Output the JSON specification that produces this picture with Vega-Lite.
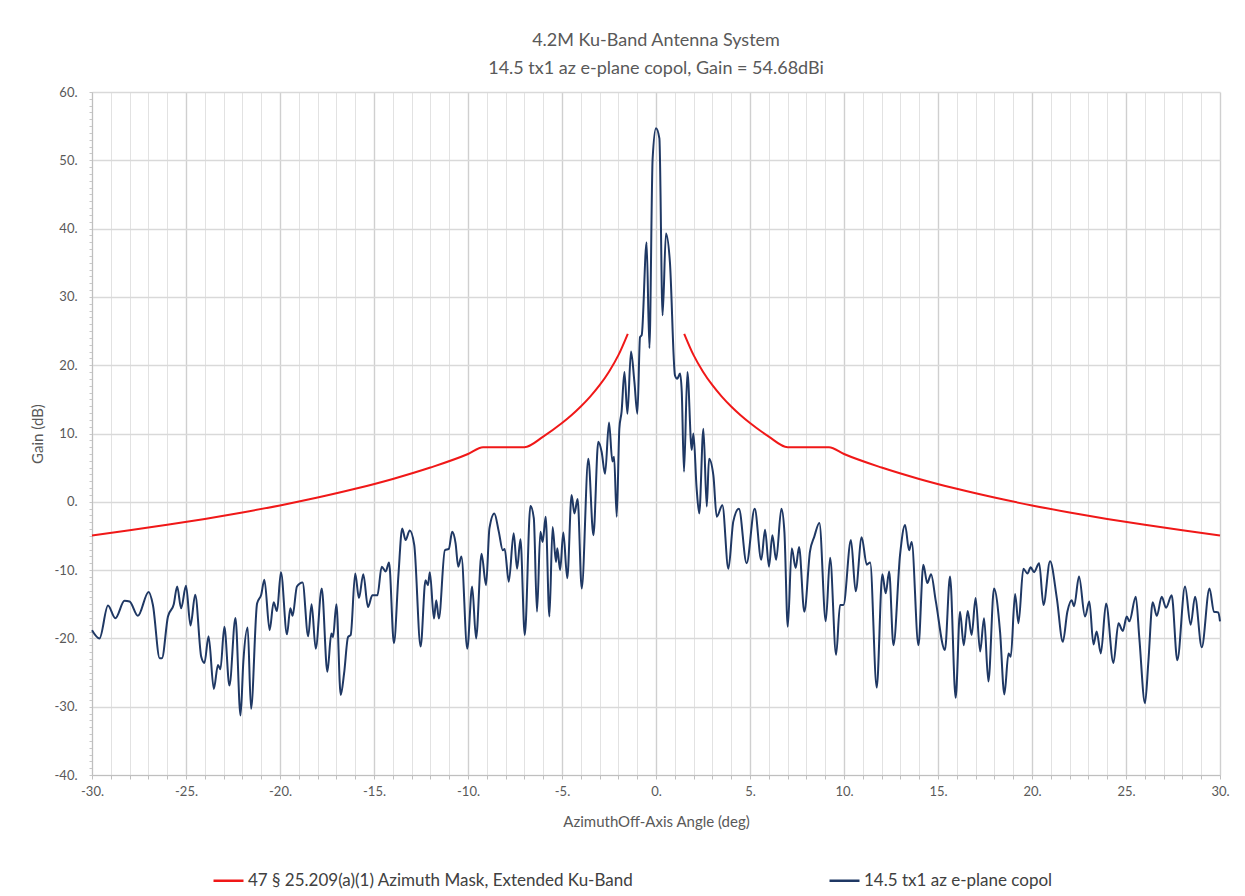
{
  "$schema": "https://vega.github.io/schema/vega-lite/v6.json",
  "width": 1128,
  "height": 683,
  "autosize": "none",
  "padding": {"left": 92, "top": 92, "right": 25, "bottom": 121},
  "background": "white",
  "config": {"view": {"stroke": null}, "font": "Lato"},
  "title": {
    "text": ["4.2M Ku-Band Antenna System", "14.5 tx1 az e-plane copol, Gain = 54.68dBi"],
    "anchor": "middle", "fontSize": 18, "fontWeight": "normal", "color": "#595959",
    "lineHeight": 28, "offset": 8, "font": "Lato"
  },
  "datasets": {
    "mask": [
      {"angle": -30, "gain": -4.93, "side": "L"}, {"angle": -28, "gain": -4.18, "side": "L"}, {"angle": -26, "gain": -3.37, "side": "L"},
      {"angle": -24, "gain": -2.51, "side": "L"}, {"angle": -22, "gain": -1.56, "side": "L"}, {"angle": -20, "gain": -0.53, "side": "L"},
      {"angle": -18, "gain": 0.62, "side": "L"}, {"angle": -16, "gain": 1.9, "side": "L"}, {"angle": -14, "gain": 3.35, "side": "L"},
      {"angle": -12, "gain": 5.02, "side": "L"}, {"angle": -10, "gain": 7.0, "side": "L"}, {"angle": -9.2, "gain": 8.0, "side": "L"},
      {"angle": -7, "gain": 8.0, "side": "L"}, {"angle": -6, "gain": 9.55, "side": "L"}, {"angle": -5, "gain": 11.53, "side": "L"},
      {"angle": -4.5, "gain": 12.67, "side": "L"}, {"angle": -4, "gain": 13.95, "side": "L"}, {"angle": -3.5, "gain": 15.4, "side": "L"},
      {"angle": -3, "gain": 17.07, "side": "L"}, {"angle": -2.5, "gain": 19.05, "side": "L"}, {"angle": -2, "gain": 21.47, "side": "L"},
      {"angle": -1.5, "gain": 24.6, "side": "L"},
      {"angle": 1.5, "gain": 24.6, "side": "R"}, {"angle": 2, "gain": 21.47, "side": "R"}, {"angle": 2.5, "gain": 19.05, "side": "R"},
      {"angle": 3, "gain": 17.07, "side": "R"}, {"angle": 3.5, "gain": 15.4, "side": "R"}, {"angle": 4, "gain": 13.95, "side": "R"},
      {"angle": 4.5, "gain": 12.67, "side": "R"}, {"angle": 5, "gain": 11.53, "side": "R"}, {"angle": 6, "gain": 9.55, "side": "R"},
      {"angle": 7, "gain": 8.0, "side": "R"}, {"angle": 9.2, "gain": 8.0, "side": "R"}, {"angle": 10, "gain": 7.0, "side": "R"},
      {"angle": 12, "gain": 5.02, "side": "R"}, {"angle": 14, "gain": 3.35, "side": "R"}, {"angle": 16, "gain": 1.9, "side": "R"},
      {"angle": 18, "gain": 0.62, "side": "R"}, {"angle": 20, "gain": -0.53, "side": "R"}, {"angle": 22, "gain": -1.56, "side": "R"},
      {"angle": 24, "gain": -2.51, "side": "R"}, {"angle": 26, "gain": -3.37, "side": "R"}, {"angle": 28, "gain": -4.18, "side": "R"},
      {"angle": 30, "gain": -4.93, "side": "R"}
    ],
    "pattern": [
      {"angle": -30, "gain": -18.8}, {"angle": -29.6, "gain": -20.0}, {"angle": -29.15, "gain": -15.2}, {"angle": -28.76, "gain": -17.05},
      {"angle": -28.27, "gain": -14.5}, {"angle": -28.0, "gain": -14.6}, {"angle": -27.56, "gain": -16.7}, {"angle": -26.99, "gain": -13.2},
      {"angle": -26.76, "gain": -15.1}, {"angle": -26.4, "gain": -22.9}, {"angle": -26.28, "gain": -22.9}, {"angle": -25.96, "gain": -16.8},
      {"angle": -25.65, "gain": -15.0}, {"angle": -25.47, "gain": -12.4}, {"angle": -25.26, "gain": -15.6}, {"angle": -25.0, "gain": -12.3},
      {"angle": -24.76, "gain": -18.1}, {"angle": -24.51, "gain": -13.6}, {"angle": -24.19, "gain": -22.7}, {"angle": -24.02, "gain": -23.6},
      {"angle": -23.8, "gain": -19.7}, {"angle": -23.52, "gain": -27.4}, {"angle": -23.3, "gain": -23.9}, {"angle": -23.17, "gain": -24.5},
      {"angle": -22.96, "gain": -18.3}, {"angle": -22.69, "gain": -26.9}, {"angle": -22.37, "gain": -17.0}, {"angle": -22.1, "gain": -31.3},
      {"angle": -21.95, "gain": -23.4}, {"angle": -21.72, "gain": -18.4}, {"angle": -21.54, "gain": -30.3}, {"angle": -21.22, "gain": -14.9},
      {"angle": -21.0, "gain": -13.6}, {"angle": -20.83, "gain": -11.4}, {"angle": -20.55, "gain": -18.8}, {"angle": -20.34, "gain": -14.7},
      {"angle": -20.16, "gain": -16.0}, {"angle": -19.95, "gain": -10.3}, {"angle": -19.63, "gain": -19.4}, {"angle": -19.45, "gain": -15.6},
      {"angle": -19.33, "gain": -16.7}, {"angle": -19.1, "gain": -12.4}, {"angle": -18.8, "gain": -11.8}, {"angle": -18.5, "gain": -19.7},
      {"angle": -18.32, "gain": -15.0}, {"angle": -18.1, "gain": -21.5}, {"angle": -17.78, "gain": -12.7}, {"angle": -17.48, "gain": -24.9},
      {"angle": -17.27, "gain": -19.3}, {"angle": -17.18, "gain": -19.8}, {"angle": -17.0, "gain": -15.0}, {"angle": -16.77, "gain": -28.3},
      {"angle": -16.59, "gain": -25.1}, {"angle": -16.38, "gain": -19.8}, {"angle": -16.24, "gain": -19.5}, {"angle": -16.0, "gain": -10.5},
      {"angle": -15.8, "gain": -14.1}, {"angle": -15.57, "gain": -10.6}, {"angle": -15.32, "gain": -15.4}, {"angle": -15.09, "gain": -13.7},
      {"angle": -14.82, "gain": -13.7}, {"angle": -14.59, "gain": -9.5}, {"angle": -14.38, "gain": -10.2}, {"angle": -14.2, "gain": -8.9},
      {"angle": -13.94, "gain": -20.7}, {"angle": -13.7, "gain": -10.7}, {"angle": -13.5, "gain": -3.9}, {"angle": -13.32, "gain": -5.6},
      {"angle": -13.1, "gain": -4.2}, {"angle": -12.86, "gain": -6.3}, {"angle": -12.52, "gain": -21.2}, {"angle": -12.26, "gain": -11.5},
      {"angle": -12.13, "gain": -12.2}, {"angle": -12.03, "gain": -10.3}, {"angle": -11.81, "gain": -17.1}, {"angle": -11.69, "gain": -14.4},
      {"angle": -11.55, "gain": -17.1}, {"angle": -11.23, "gain": -7.1}, {"angle": -11.02, "gain": -6.9}, {"angle": -10.84, "gain": -4.4},
      {"angle": -10.66, "gain": -6.1}, {"angle": -10.52, "gain": -9.5}, {"angle": -10.35, "gain": -8.0}, {"angle": -10.04, "gain": -21.5},
      {"angle": -9.78, "gain": -12.4}, {"angle": -9.57, "gain": -20.0}, {"angle": -9.28, "gain": -7.6}, {"angle": -9.04, "gain": -12.2},
      {"angle": -8.86, "gain": -3.9}, {"angle": -8.6, "gain": -1.7}, {"angle": -8.36, "gain": -4.4}, {"angle": -8.15, "gain": -7.1},
      {"angle": -8.05, "gain": -6.9}, {"angle": -7.83, "gain": -11.7}, {"angle": -7.57, "gain": -4.6}, {"angle": -7.39, "gain": -9.8},
      {"angle": -7.21, "gain": -5.5}, {"angle": -6.98, "gain": -19.5}, {"angle": -6.68, "gain": -0.6}, {"angle": -6.5, "gain": -2.4},
      {"angle": -6.33, "gain": -16.1}, {"angle": -6.15, "gain": -4.4}, {"angle": -6.03, "gain": -5.9}, {"angle": -5.87, "gain": -2.2},
      {"angle": -5.67, "gain": -16.8}, {"angle": -5.5, "gain": -3.7}, {"angle": -5.32, "gain": -8.8}, {"angle": -5.25, "gain": -6.8},
      {"angle": -5.1, "gain": -10.0}, {"angle": -4.93, "gain": -4.5}, {"angle": -4.72, "gain": -11.2}, {"angle": -4.49, "gain": 1.0},
      {"angle": -4.34, "gain": -1.7}, {"angle": -4.17, "gain": 0.4}, {"angle": -3.95, "gain": -12.7}, {"angle": -3.6, "gain": 6.3},
      {"angle": -3.33, "gain": -4.9}, {"angle": -3.07, "gain": 8.8}, {"angle": -2.89, "gain": 7.3}, {"angle": -2.71, "gain": 4.1},
      {"angle": -2.5, "gain": 11.6}, {"angle": -2.32, "gain": 5.9}, {"angle": -2.23, "gain": 6.6}, {"angle": -2.09, "gain": -2.2},
      {"angle": -1.95, "gain": 10.7}, {"angle": -1.83, "gain": 13.2}, {"angle": -1.68, "gain": 19.0}, {"angle": -1.52, "gain": 12.9},
      {"angle": -1.33, "gain": 22.0}, {"angle": -1.15, "gain": 17.6}, {"angle": -0.99, "gain": 12.9}, {"angle": -0.85, "gain": 24.1},
      {"angle": -0.76, "gain": 24.4}, {"angle": -0.5, "gain": 38.0}, {"angle": -0.35, "gain": 22.5}, {"angle": -0.18, "gain": 50.2},
      {"angle": 0, "gain": 54.68}, {"angle": 0.18, "gain": 53.2}, {"angle": 0.35, "gain": 27.3}, {"angle": 0.53, "gain": 39.3},
      {"angle": 0.74, "gain": 35.1}, {"angle": 1.01, "gain": 18.5}, {"angle": 1.13, "gain": 18.0}, {"angle": 1.28, "gain": 18.8},
      {"angle": 1.37, "gain": 16.1}, {"angle": 1.49, "gain": 4.4}, {"angle": 1.67, "gain": 19.0}, {"angle": 1.9, "gain": 7.6},
      {"angle": 1.99, "gain": 10.0}, {"angle": 2.16, "gain": 2.0}, {"angle": 2.3, "gain": -1.7}, {"angle": 2.52, "gain": 10.7},
      {"angle": 2.7, "gain": -0.7}, {"angle": 2.82, "gain": 6.3}, {"angle": 3.05, "gain": 3.9}, {"angle": 3.23, "gain": -2.2},
      {"angle": 3.53, "gain": -0.5}, {"angle": 3.85, "gain": -9.8}, {"angle": 4.11, "gain": -2.9}, {"angle": 4.41, "gain": -1.0},
      {"angle": 4.82, "gain": -9.0}, {"angle": 5.25, "gain": -1.0}, {"angle": 5.6, "gain": -8.5}, {"angle": 5.8, "gain": -4.1},
      {"angle": 6.01, "gain": -9.5}, {"angle": 6.19, "gain": -4.9}, {"angle": 6.39, "gain": -8.5}, {"angle": 6.67, "gain": -1.0},
      {"angle": 6.83, "gain": -4.4}, {"angle": 7.01, "gain": -18.3}, {"angle": 7.22, "gain": -6.8}, {"angle": 7.43, "gain": -9.7},
      {"angle": 7.61, "gain": -6.6}, {"angle": 7.89, "gain": -16.1}, {"angle": 8.19, "gain": -7.3}, {"angle": 8.42, "gain": -5.1},
      {"angle": 8.69, "gain": -3.1}, {"angle": 9.03, "gain": -17.5}, {"angle": 9.26, "gain": -8.2}, {"angle": 9.58, "gain": -22.4},
      {"angle": 9.79, "gain": -15.1}, {"angle": 9.97, "gain": -15.1}, {"angle": 10.37, "gain": -5.6}, {"angle": 10.62, "gain": -13.1},
      {"angle": 10.94, "gain": -5.2}, {"angle": 11.21, "gain": -9.2}, {"angle": 11.39, "gain": -8.9}, {"angle": 11.74, "gain": -27.2},
      {"angle": 12.04, "gain": -10.6}, {"angle": 12.22, "gain": -13.4}, {"angle": 12.4, "gain": -10.2}, {"angle": 12.63, "gain": -21.0},
      {"angle": 12.98, "gain": -7.8}, {"angle": 13.25, "gain": -3.4}, {"angle": 13.46, "gain": -7.1}, {"angle": 13.6, "gain": -5.9},
      {"angle": 13.96, "gain": -21.0}, {"angle": 14.22, "gain": -9.2}, {"angle": 14.43, "gain": -11.9}, {"angle": 14.63, "gain": -10.6},
      {"angle": 14.88, "gain": -14.5}, {"angle": 15.37, "gain": -21.7}, {"angle": 15.64, "gain": -10.95}, {"angle": 15.94, "gain": -28.7},
      {"angle": 16.17, "gain": -16.1}, {"angle": 16.37, "gain": -21.0}, {"angle": 16.58, "gain": -16.0}, {"angle": 16.79, "gain": -19.5},
      {"angle": 17.0, "gain": -14.1}, {"angle": 17.24, "gain": -21.9}, {"angle": 17.45, "gain": -17.05}, {"angle": 17.68, "gain": -26.3},
      {"angle": 17.98, "gain": -12.7}, {"angle": 18.3, "gain": -19.0}, {"angle": 18.53, "gain": -28.2}, {"angle": 18.75, "gain": -22.2},
      {"angle": 18.87, "gain": -22.7}, {"angle": 19.1, "gain": -13.5}, {"angle": 19.28, "gain": -17.8}, {"angle": 19.54, "gain": -9.8},
      {"angle": 19.76, "gain": -10.5}, {"angle": 19.93, "gain": -9.6}, {"angle": 20.11, "gain": -10.3}, {"angle": 20.38, "gain": -9.0},
      {"angle": 20.61, "gain": -15.1}, {"angle": 20.96, "gain": -8.7}, {"angle": 21.32, "gain": -14.1}, {"angle": 21.64, "gain": -20.5},
      {"angle": 21.88, "gain": -16.1}, {"angle": 22.11, "gain": -14.4}, {"angle": 22.24, "gain": -15.3}, {"angle": 22.5, "gain": -10.95},
      {"angle": 22.82, "gain": -16.8}, {"angle": 23.05, "gain": -14.6}, {"angle": 23.27, "gain": -20.9}, {"angle": 23.44, "gain": -19.0},
      {"angle": 23.66, "gain": -22.2}, {"angle": 23.94, "gain": -14.9}, {"angle": 24.33, "gain": -23.6}, {"angle": 24.6, "gain": -17.8},
      {"angle": 24.83, "gain": -18.9}, {"angle": 25.04, "gain": -16.8}, {"angle": 25.18, "gain": -17.5}, {"angle": 25.52, "gain": -13.9},
      {"angle": 25.71, "gain": -20.0}, {"angle": 26.01, "gain": -29.5}, {"angle": 26.19, "gain": -23.4}, {"angle": 26.42, "gain": -14.7},
      {"angle": 26.64, "gain": -16.7}, {"angle": 26.9, "gain": -13.9}, {"angle": 27.13, "gain": -15.5}, {"angle": 27.43, "gain": -13.7},
      {"angle": 27.73, "gain": -23.2}, {"angle": 28.14, "gain": -12.4}, {"angle": 28.44, "gain": -18.0}, {"angle": 28.67, "gain": -13.9},
      {"angle": 29.03, "gain": -21.3}, {"angle": 29.44, "gain": -12.7}, {"angle": 29.68, "gain": -16.1}, {"angle": 29.91, "gain": -16.2},
      {"angle": 30.0, "gain": -17.5}
    ]
  },
  "layer": [
    {
      "data": {"name": "mask"},
      "mark": {"type": "line", "strokeWidth": 2, "interpolate": "monotone"},
      "encoding": {
        "x": {
          "field": "angle", "type": "quantitative",
          "scale": {"domain": [-30, 30], "nice": false, "zero": false},
          "axis": {
            "title": "AzimuthOff-Axis Angle (deg)",
            "titleFontSize": 15, "titleFontWeight": "normal", "titleColor": "#595959", "titlePadding": 16, "titleFont": "Lato",
            "tickCount": 500,
            "values": [-30,-29,-28,-27,-26,-25,-24,-23,-22,-21,-20,-19,-18,-17,-16,-15,-14,-13,-12,-11,-10,-9,-8,-7,-6,-5,-4,-3,-2,-1,0,1,2,3,4,5,6,7,8,9,10,11,12,13,14,15,16,17,18,19,20,21,22,23,24,25,26,27,28,29,30],
            "labelExpr": "datum.value % 5 === 0 ? datum.value + '.' : ''",
            "labelFontSize": 13, "labelColor": "#595959", "labelPadding": 6, "labelFlush": false, "labelOverlap": false, "labelBound": false,
            "grid": true,
            "gridColor": {"condition": {"test": "datum.value % 5 === 0", "value": "#cfcfcf"}, "value": "#e2e2e2"},
            "gridWidth": {"condition": {"test": "datum.value % 5 === 0", "value": 1.4}, "value": 1},
            "domainColor": "#bfbfbf", "tickColor": "#bfbfbf", "tickSize": 4
          }
        },
        "y": {
          "field": "gain", "type": "quantitative",
          "scale": {"domain": [-40, 60], "nice": false, "zero": false},
          "axis": {
            "title": "Gain (dB)",
            "titleFontSize": 15, "titleFontWeight": "normal", "titleColor": "#595959", "titlePadding": 9, "titleFont": "Lato",
            "tickCount": 500,
            "values": [-40,-39,-38,-37,-36,-35,-34,-33,-32,-31,-30,-29,-28,-27,-26,-25,-24,-23,-22,-21,-20,-19,-18,-17,-16,-15,-14,-13,-12,-11,-10,-9,-8,-7,-6,-5,-4,-3,-2,-1,0,1,2,3,4,5,6,7,8,9,10,11,12,13,14,15,16,17,18,19,20,21,22,23,24,25,26,27,28,29,30,31,32,33,34,35,36,37,38,39,40,41,42,43,44,45,46,47,48,49,50,51,52,53,54,55,56,57,58,59,60],
            "labelExpr": "datum.value % 10 === 0 ? datum.value + '.' : ''",
            "labelFontSize": 13, "labelColor": "#595959", "labelPadding": 12, "labelOverlap": false, "labelBound": false, "labelFlush": false,
            "grid": true,
            "gridColor": "#d9d9d9",
            "gridOpacity": {"condition": {"test": "datum.value % 10 === 0", "value": 1}, "value": 0},
            "gridWidth": 1.3,
            "domainColor": "#bfbfbf", "tickColor": "#c8c8c8", "tickSize": 3
          }
        },
        "detail": {"field": "side"},
        "color": {
          "datum": "47 § 25.209(a)(1) Azimuth Mask, Extended Ku-Band",
          "scale": {"domain": ["47 § 25.209(a)(1) Azimuth Mask, Extended Ku-Band", "14.5 tx1 az e-plane copol"], "range": ["#f01818", "#1f3864"]},
          "legend": {
            "title": null, "orient": "none", "legendX": 120, "legendY": 772, "direction": "horizontal",
            "symbolType": "stroke", "symbolSize": 900, "symbolStrokeWidth": 2.5,
            "labelFontSize": 17, "labelColor": "#404040", "labelFont": "Lato", "labelOffset": 3, "labelLimit": 800,
            "columnPadding": 190
          }
        }
      }
    },
    {
      "data": {"name": "pattern"},
      "mark": {"type": "line", "strokeWidth": 2, "interpolate": "monotone"},
      "encoding": {
        "x": {"field": "angle", "type": "quantitative"},
        "y": {"field": "gain", "type": "quantitative"},
        "color": {"datum": "14.5 tx1 az e-plane copol"}
      }
    }
  ]
}
